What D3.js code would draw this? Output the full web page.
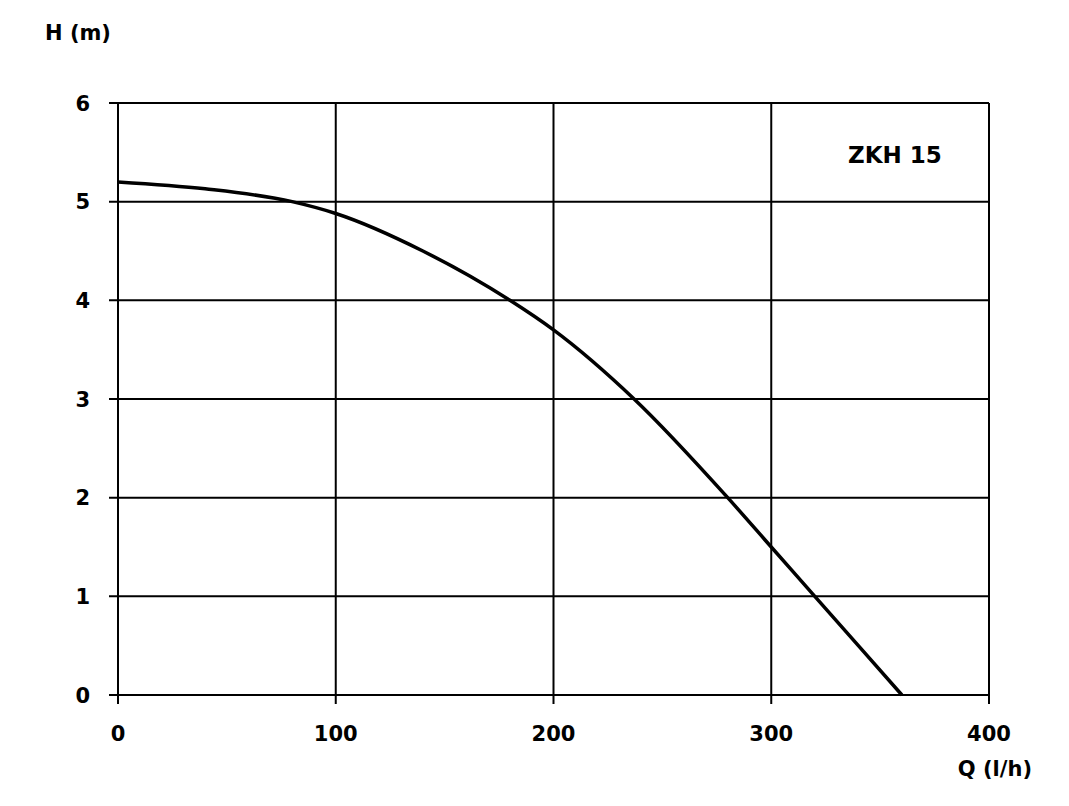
<!DOCTYPE html>
<html>
<head>
<meta charset="utf-8">
<script src="https://cdn.jsdelivr.net/npm/d3@7"></script>
<style>
  body { margin: 0; background: #fff; }
  text { font-family: "DejaVu Sans", Verdana, sans-serif; font-weight: bold; }
</style>
</head>
<body>
<div id="chart"></div>
<script>
// chart values
var flow = [0, 40, 80, 100, 140, 180, 200, 237, 280, 300, 320, 360]
var head = [5.2, 5.13, 5.0, 4.88, 4.5, 4.0, 3.7, 3.0, 2.0, 1.5, 1.0, 0]
var xTicks = [0, 100, 200, 300, 400]
var yTicks = [0, 1, 2, 3, 4, 5, 6]
var pumpName = "ZKH 15"

var width = 1069
var height = 806
var margin = {left: 118, right: 80, top: 103, bottom: 111}

var svg = d3.select("#chart")
  .append("svg")
  .attr("width", width)
  .attr("height", height)

var x = d3.scaleLinear().domain([0, 400]).range([margin.left, width - margin.right])
var y = d3.scaleLinear().domain([0, 6]).range([height - margin.bottom, margin.top])

// grid lines
svg.append("g")
  .selectAll("line")
  .data(xTicks)
  .enter()
  .append("line")
  .attr("x1", function(d) { return x(d) })
  .attr("x2", function(d) { return x(d) })
  .attr("y1", y(6))
  .attr("y2", y(0) + 9)
  .attr("stroke", "#000")
  .attr("stroke-width", 2)

svg.append("g")
  .selectAll("line")
  .data(yTicks)
  .enter()
  .append("line")
  .attr("x1", x(0) - 9)
  .attr("x2", x(400))
  .attr("y1", function(d) { return y(d) })
  .attr("y2", function(d) { return y(d) })
  .attr("stroke", "#000")
  .attr("stroke-width", 2)

// tick labels
svg.append("g")
  .selectAll("text")
  .data(xTicks)
  .enter()
  .append("text")
  .attr("x", function(d) { return x(d) })
  .attr("y", y(0) + 46)
  .attr("text-anchor", "middle")
  .attr("font-size", "21px")
  .text(function(d) { return d })

svg.append("g")
  .selectAll("text")
  .data(yTicks)
  .enter()
  .append("text")
  .attr("x", x(0) - 28)
  .attr("y", function(d) { return y(d) + 7.5 })
  .attr("text-anchor", "end")
  .attr("font-size", "21px")
  .text(function(d) { return d })

// axis titles
svg.append("text")
  .attr("x", 45)
  .attr("y", 40)
  .attr("font-size", "21px")
  .text("H (m)")

svg.append("text")
  .attr("x", 1032)
  .attr("y", 776)
  .attr("text-anchor", "end")
  .attr("font-size", "21px")
  .text("Q (l/h)")

svg.append("text")
  .attr("x", 848)
  .attr("y", 163)
  .attr("font-size", "23px")
  .text(pumpName)

// pump curve
var line = d3.line()
  .x(function(d) { return x(d[0]) })
  .y(function(d) { return y(d[1]) })
  .curve(d3.curveMonotoneX)

svg.append("path")
  .datum(d3.zip(flow, head))
  .attr("d", line)
  .attr("fill", "none")
  .attr("stroke", "#000")
  .attr("stroke-width", 3.5)
</script>
</body>
</html>
